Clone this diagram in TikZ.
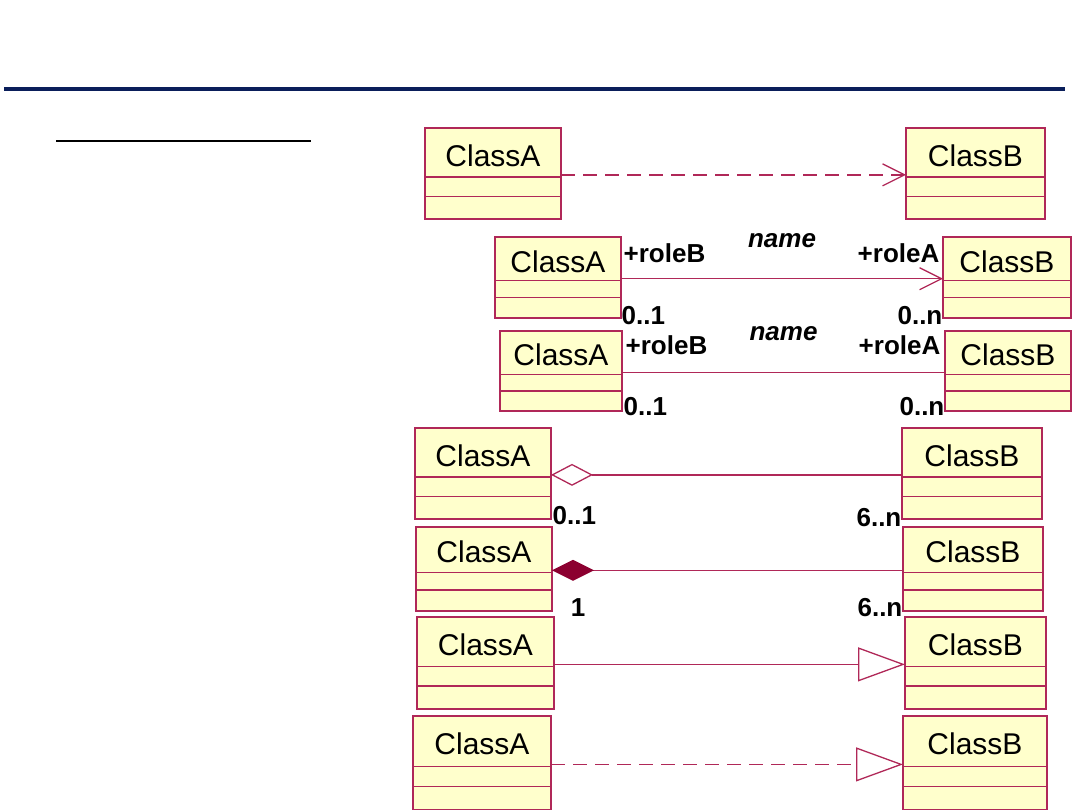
\documentclass[tikz,border=0pt]{standalone}
\usepackage{fontspec}
\setmainfont{Liberation Sans}
\usetikzlibrary{arrows.meta, calc}

\definecolor{umlline}{RGB}{176,40,88}
\definecolor{umlfill}{RGB}{255,255,204}
\definecolor{umldark}{RGB}{140,0,48}
\definecolor{rulenavy}{RGB}{10,30,90}

\tikzset{
  classbox/.style={draw=umlline, fill=umlfill, line width=1.4pt, inner sep=0pt, outer sep=0pt, anchor=north west},
  classname/.style={font=\fontsize{30}{32}\selectfont},
  rolelabel/.style={font=\bfseries\fontsize{26}{28}\selectfont, inner sep=0pt},
  assocname/.style={font=\bfseries\itshape\fontsize{26}{28}\selectfont, inner sep=0pt},
  link/.style={draw=umlline, line width=1.3pt},
  dashlink/.style={link, dash pattern=on 14pt off 8pt},
}

% class box: name, x, y (top left), width, height, title
\newcommand{\umlclass}[6]{%
  \node[classbox, minimum width=#4pt, minimum height=#5pt] (#1) at (#2,#3) {};
  \draw[umlline, line width=1.3pt] ($(#1.north west)!0.54!(#1.south west)$) -- ($(#1.north east)!0.54!(#1.south east)$);
  \draw[umlline, line width=1.3pt] ($(#1.north west)!0.75!(#1.south west)$) -- ($(#1.north east)!0.75!(#1.south east)$);
  \node[classname] at ($(#1.north)!0.3!(#1.south)$) {#6};
  \coordinate (#1w) at ($(#1.north west)!0.515!(#1.south west)$);
  \coordinate (#1e) at ($(#1.north east)!0.515!(#1.south east)$);
}

\begin{document}
\begin{tikzpicture}[x=1pt, y=-1pt]
  \useasboundingbox (0,0) rectangle (1080,810);
  % header rules
  \draw[rulenavy, line width=4pt] (4,89.5) -- (1065,89.5);
  \draw[black, line width=2pt] (56,141) -- (311,141);

  % dependency
  \umlclass{a1}{425}{128}{136}{91}{ClassA}
  \umlclass{b1}{906}{128}{139}{91}{ClassB}
  \draw[dashlink, -{Straight Barb[length=22pt, width=22pt]}] (a1e) -- (b1w);

  % directed association
  \umlclass{a2}{495}{237}{126}{81}{ClassA}
  \umlclass{b2}{943}{237}{128}{81}{ClassB}
  \draw[link, -{Straight Barb[length=22pt, width=22pt]}] (a2e) -- (b2w)
    node[rolelabel, pos=0, anchor=base west, xshift=2pt, yshift=16pt] {+roleB}
    node[rolelabel, pos=0, anchor=base west, yshift=-46pt] {0..1}
    node[assocname, pos=0.5, anchor=base, yshift=31pt] {name}
    node[rolelabel, pos=1, anchor=base east, xshift=-3pt, yshift=16pt] {+roleA}
    node[rolelabel, pos=1, anchor=base east, yshift=-46pt] {0..n};

  % association
  \umlclass{a3}{500}{331}{122}{80}{ClassA}
  \umlclass{b3}{945}{331}{126}{80}{ClassB}
  \draw[link] (a3e) -- (b3w)
    node[rolelabel, pos=0, anchor=base west, xshift=3pt, yshift=18pt] {+roleB}
    node[rolelabel, pos=0, anchor=base west, xshift=1pt, yshift=-43pt] {0..1}
    node[assocname, pos=0.5, anchor=base, yshift=32pt] {name}
    node[rolelabel, pos=1, anchor=base east, xshift=-4pt, yshift=18pt] {+roleA}
    node[rolelabel, pos=1, anchor=base east, yshift=-43pt] {0..n};

  % aggregation
  \umlclass{a4}{415}{428}{136}{91}{ClassA}
  \umlclass{b4}{902}{428}{140}{91}{ClassB}
  \draw[link, {Diamond[length=42pt, width=22pt, fill=white]}-] (a4e) -- (b4w)
    node[rolelabel, pos=0, anchor=base west, xshift=1pt, yshift=-50pt] {0..1}
    node[rolelabel, pos=1, anchor=base east, yshift=-52pt] {6..n};

  % composition
  \umlclass{a5}{416}{527}{136}{84}{ClassA}
  \umlclass{b5}{903}{527}{140}{84}{ClassB}
  \draw[link, {Diamond[length=42pt, width=21pt, color=umldark, fill=umldark]}-] (a5e) -- (b5w)
    node[rolelabel, pos=0, anchor=base, xshift=26pt, yshift=-46pt] {1}
    node[rolelabel, pos=1, anchor=base east, yshift=-46pt] {6..n};

  % generalization
  \umlclass{a6}{417}{617}{137}{92}{ClassA}
  \umlclass{b6}{905}{617}{141}{92}{ClassB}
  \draw[link, -{Triangle[length=47pt, width=34pt, fill=white]}] (a6e) -- (b6w);

  % realization
  \umlclass{a7}{413}{716}{138}{94}{ClassA}
  \umlclass{b7}{903}{716}{144}{94}{ClassB}
  \draw[dashlink, -{Triangle[length=47pt, width=34pt, fill=white]}] (a7e) -- (b7w);
\end{tikzpicture}
\end{document}
